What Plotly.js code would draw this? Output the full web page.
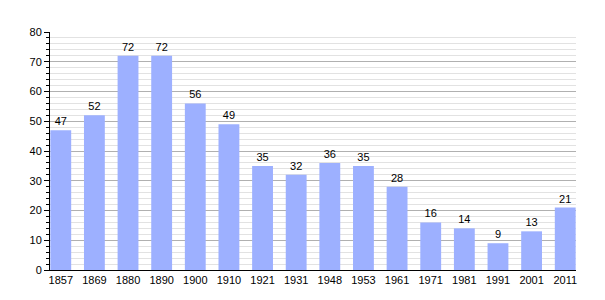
<!DOCTYPE html>
<html><head><meta charset="utf-8">
<script src="https://cdn.plot.ly/plotly-3.0.1.min.js"></script>
<style>html,body{margin:0;padding:0;background:#fff}</style>
</head><body>
<div id="chart" style="width:605px;height:300px"></div>
<script>
const years = ["1857","1869","1880","1890","1900","1910","1921","1931","1948","1953","1961","1971","1981","1991","2001","2011"];
const population = [47,52,72,72,56,49,35,32,36,35,28,16,14,9,13,21];

Plotly.newPlot('chart', [{
  type: 'bar',
  x: years,
  y: population,
  text: population.map(String),
  textposition: 'outside',
  cliponaxis: false,
  textfont: {family: 'Liberation Sans, Arial, sans-serif', size: 11, color: '#000'},
  marker: {color: '#9db0ff'},
  hoverinfo: 'none'
}], {
  width: 605, height: 300,
  margin: {l: 50, r: 29, t: 32, b: 30},
  paper_bgcolor: '#fff', plot_bgcolor: '#fff',
  bargap: 0.38,
  showlegend: false,
  font: {family: 'Liberation Sans, Arial, sans-serif', size: 11, color: '#000'},
  xaxis: {
    type: 'category',
    range: [-0.32, 15.32],
    showline: true, linecolor: '#000', linewidth: 1,
    ticks: '', showgrid: false,
    tickfont: {size: 11}
  },
  yaxis: {
    range: [0, 80],
    dtick: 10,
    showline: true, linecolor: '#000', linewidth: 1,
    ticks: 'outside', ticklen: 5, tickcolor: '#000',
    showgrid: true, gridcolor: '#b0b0b0', gridwidth: 1,
    zeroline: false,
    tickfont: {size: 11},
    minor: {dtick: 2, showgrid: true, gridcolor: '#e2e2e2', ticks: 'outside', ticklen: 3, tickcolor: '#000'}
  }
}, {displayModeBar: false, staticPlot: true});
</script>
</body></html>
